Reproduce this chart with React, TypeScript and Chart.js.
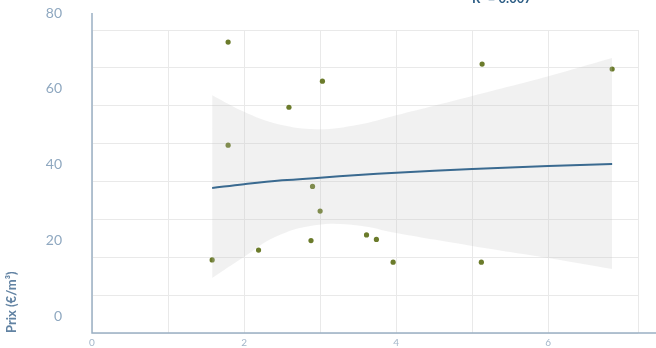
import React, { useEffect, useRef } from "react";
import { Chart, registerables } from "chart.js";

Chart.register(...registerables);

// Observations (surface x, prix y)
const pointX = [1.58, 1.79, 1.79, 2.19, 2.59, 2.9, 2.88, 3.0, 3.03, 3.61, 3.74, 3.96, 5.13, 5.12, 6.84];
const pointY = [19.3, 76.8, 49.6, 21.9, 59.6, 38.7, 24.4, 32.2, 66.5, 25.9, 24.7, 18.7, 71.0, 18.7, 69.7];

// Fitted curve
const fitX = [1.58, 2.0, 2.5, 3.0, 3.5, 4.0, 5.0, 6.0, 6.84];
const fitY = [38.3, 39.3, 40.3, 41.0, 41.7, 42.3, 43.3, 44.1, 44.6];

// Confidence band edges
const bandUpperX = [1.58, 2.0, 2.4, 2.95, 3.5, 4.0, 5.0, 6.0, 6.84];
const bandUpperY = [62.8, 58.4, 55.4, 53.8, 55.0, 57.5, 62.6, 67.8, 72.6];
const bandLowerX = [1.58, 2.0, 2.4, 2.95, 3.5, 4.0, 5.0, 6.0, 6.84];
const bandLowerY = [14.5, 20.1, 25.3, 28.5, 28.4, 26.4, 23.0, 19.8, 16.9];

const yTicksLabelled = [0, 20, 40, 60, 80];
const xTicksLabelled = [0, 2, 4, 6];
const yTitle = "Prix (€/m³)";
const topNote = "R² = 0.007";

const zip = (xs: number[], ys: number[]) => xs.map((x, i) => ({ x, y: ys[i] }));

export default function App() {
  const ref = useRef<HTMLCanvasElement | null>(null);

  useEffect(() => {
    document.body.style.margin = "0";
    const canvas = ref.current;
    if (!canvas) return;

    const axisPlugin = {
      id: "axisExt",
      afterDraw(chart: any) {
        const { ctx, chartArea } = chart;
        ctx.save();
        ctx.strokeStyle = "#9ab0c4";
        ctx.lineWidth = 1.5;
        ctx.beginPath();
        ctx.moveTo(chartArea.left, chartArea.top - 17);
        ctx.lineTo(chartArea.left, chartArea.bottom);
        ctx.lineTo(chartArea.right + 18, chartArea.bottom);
        ctx.stroke();
        ctx.fillStyle = "#2f5f86";
        ctx.font = "bold 13px Lato";
        ctx.textBaseline = "alphabetic";
        ctx.fillText(topNote, 472, 3);
        ctx.restore();
      },
    };

    const chart = new Chart(canvas, {
      type: "line",
      data: {
        datasets: [
          {
            label: "points",
            data: zip(pointX, pointY),
            showLine: false,
            pointRadius: 2.6,
            pointBorderWidth: 0,
            pointBackgroundColor: "#6b7b2b",
            borderColor: "#6b7b2b",
            order: 3,
          },
          {
            label: "upper",
            data: zip(bandUpperX, bandUpperY),
            borderWidth: 0,
            pointRadius: 0,
            borderColor: "rgba(0,0,0,0)",
            tension: 0.4,
            fill: false,
            order: 2,
          },
          {
            label: "lower",
            data: zip(bandLowerX, bandLowerY),
            borderWidth: 0,
            pointRadius: 0,
            borderColor: "rgba(0,0,0,0)",
            backgroundColor: "rgba(195,195,195,0.24)",
            tension: 0.4,
            fill: 1,
            order: 1,
          },
          {
            label: "fit",
            data: zip(fitX, fitY),
            borderColor: "#3a6a90",
            borderWidth: 2,
            pointRadius: 0,
            tension: 0.4,
            fill: false,
            order: 0,
          },
        ],
      } as any,
      options: {
        animation: false,
        responsive: false,
        maintainAspectRatio: false,
        layout: { padding: { top: 30, right: 18, bottom: 0, left: 0 } },
        plugins: {
          legend: { display: false },
          tooltip: { enabled: false },
          title: { display: false },
        },
        scales: {
          x: {
            type: "linear",
            min: 0,
            max: 7.18,
            grid: { color: "#e9e9e9", lineWidth: 1, drawTicks: false },
            border: { display: false },
            ticks: {
              stepSize: 1,
              padding: 4,
              maxRotation: 0,
              color: "#a3b6c9",
              font: { family: "Lato", size: 10 },
              callback: (v: any) => (xTicksLabelled.includes(Number(v)) ? String(v) : ""),
            },
            afterFit: (scale: any) => {
              scale.height = 15;
              scale.paddingLeft = 0;
              scale.paddingRight = 0;
            },
          },
          y: {
            type: "linear",
            min: 0,
            max: 80,
            grid: { color: "#e9e9e9", lineWidth: 1, drawTicks: false },
            border: { display: false },
            ticks: {
              stepSize: 10,
              padding: 30,
              labelOffset: -17,
              color: "#8fa8c0",
              font: { family: "Lato", size: 14 },
              callback: (v: any) => (yTicksLabelled.includes(Number(v)) ? String(v) : ""),
            },
            title: {
              display: true,
              text: yTitle,
              align: "start",
              color: "#6283a3",
              font: { family: "Lato", size: 13, weight: "bold" },
              padding: { top: 4, bottom: 0 },
            },
            afterFit: (scale: any) => {
              scale.width = 92;
              scale.paddingTop = 0;
              scale.paddingBottom = 0;
            },
          },
        },
      } as any,
      plugins: [axisPlugin],
    });

    return () => chart.destroy();
  }, []);

  return (
    <div style={{ width: 656, height: 348 }}>
      <canvas ref={ref} width={656} height={348} style={{ display: "block" }} />
    </div>
  );
}
